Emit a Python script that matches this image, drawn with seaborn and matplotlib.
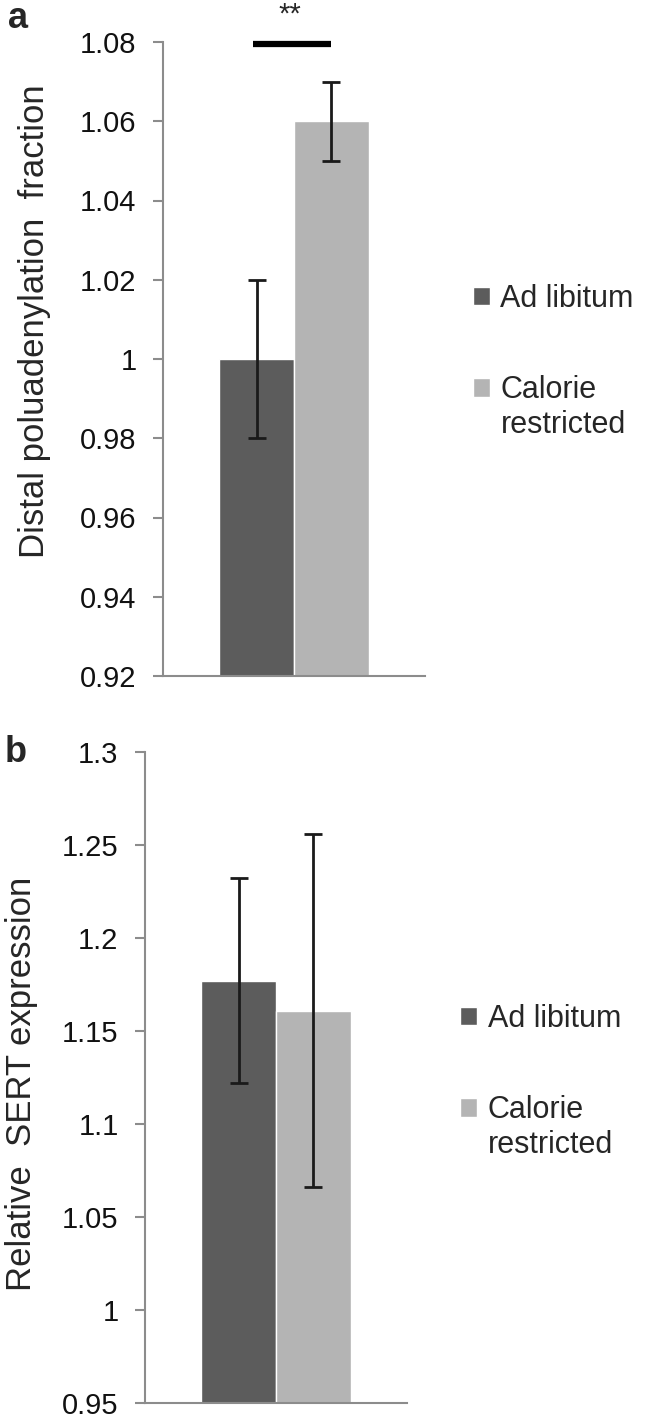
import pandas as pd
import numpy as np
import seaborn as sns
import matplotlib.pyplot as plt

# values
groups = ["Ad libitum", "Calorie restricted"]
legend_labels = ["Ad libitum", "Calorie"]
a_means = [1.00, 1.06]
a_err = [0.02, 0.01]
b_means = [1.177, 1.161]
b_err = [0.055, 0.095]
a_ticks = [0.92, 0.94, 0.96, 0.98, 1.00, 1.02, 1.04, 1.06, 1.08]
a_ticklabels = ["0.92", "0.94", "0.96", "0.98", "1", "1.02", "1.04", "1.06", "1.08"]
b_ticks = [0.95, 1.00, 1.05, 1.10, 1.15, 1.20, 1.25, 1.30]
b_ticklabels = ["0.95", "1", "1.05", "1.1", "1.15", "1.2", "1.25", "1.3"]
colors = ["#5c5c5c", "#b4b4b4"]

sns.set_style("white")
plt.rcParams['font.family'] = ['Liberation Sans', 'DejaVu Sans']

fig = plt.figure(figsize=(6.5, 14.2), dpi=100)
W, H = 650, 1420


def px_axes(left, top, right, bottom):
	return fig.add_axes([left / W, 1 - bottom / H, (right - left) / W, (bottom - top) / H])


def draw_panel(ax, means, errs, ticks, ticklabels, ylabel):
	df = pd.DataFrame({'grp': [""] * len(groups), 'cond': groups, 'val': means})
	sns.barplot(data=df, x='grp', y='val', hue='cond', hue_order=groups,
		palette=colors, errorbar=None, width=0.8, saturation=1, legend=False, ax=ax)
	for cont, m, e in zip(ax.containers, means, errs):
		p = cont.patches[0]
		xc = p.get_x() + p.get_width() / 2
		ax.errorbar(xc, m, yerr=e, fmt='none', ecolor='#1a1a1a', elinewidth=2,
			capsize=6.5, capthick=2, zorder=3)
	ax.set_xlim(-0.70, 0.70)
	ax.set_ylim(ticks[0], ticks[-1])
	ax.set_yticks(ticks)
	ax.set_yticklabels(ticklabels)
	ax.set_xticks([])
	ax.set_xlabel("")
	ax.set_ylabel(ylabel, fontsize=25, va='center')
	for s in ['top', 'right']:
		ax.spines[s].set_visible(False)
	for s in ['left', 'bottom']:
		ax.spines[s].set_color('#8c8c8c')
		ax.spines[s].set_linewidth(1.5)
	ax.tick_params(axis='y', direction='out', length=7, width=1.5, color='#8c8c8c',
		labelsize=21, labelcolor='#111111', pad=12, left=True)


ax_a = px_axes(163, 42, 425, 676)
draw_panel(ax_a, a_means, a_err, a_ticks, a_ticklabels, "Distal poluadenylation  fraction")
ax_a.yaxis.set_label_coords((35 - 163) / 262, 0.56)
ax_a.plot([-0.22, 0.20], [1.0795, 1.0795], color='black', lw=4.5, clip_on=False,
	solid_capstyle='butt')
ax_a.annotate("**", xy=(-0.02, 1.0 + 41 / 634), xycoords=('data', 'axes fraction'),
	ha='center', va='top', fontsize=21)

ax_b = px_axes(145, 752, 407, 1403)
draw_panel(ax_b, b_means, b_err, b_ticks, b_ticklabels, "Relative  SERT expression")
ax_b.yaxis.set_label_coords((22 - 145) / 262, 0.49)

legends = []
for ax, pos in [(ax_a, (473 / W, 1 - 284 / H)), (ax_b, (460 / W, 1 - 1004 / H))]:
	handles = list(ax.containers)
	leg = fig.legend(handles, legend_labels, loc='upper left', bbox_to_anchor=pos,
		bbox_transform=fig.transFigure, frameon=False, fontsize=22,
		handlelength=0.55, handleheight=0.55, handletextpad=0.35,
		labelspacing=2.0, borderpad=0, borderaxespad=0)
	legends.append(leg)

# second line of the "Calorie restricted" entry, under "Calorie"
fig.canvas.draw()
for leg in legends:
	bb = leg.get_texts()[1].get_window_extent()
	fig.text(bb.x0 / W, (bb.y0 - 5) / H, "restricted", fontsize=22, ha='left', va='top')

fig.text(8 / W, 1 - 18 / H, "a", fontsize=26, fontweight='bold', va='center', ha='left')
fig.text(5 / W, 1 - 752 / H, "b", fontsize=26, fontweight='bold', va='center', ha='left')

fig.savefig("out.png", dpi=100)
